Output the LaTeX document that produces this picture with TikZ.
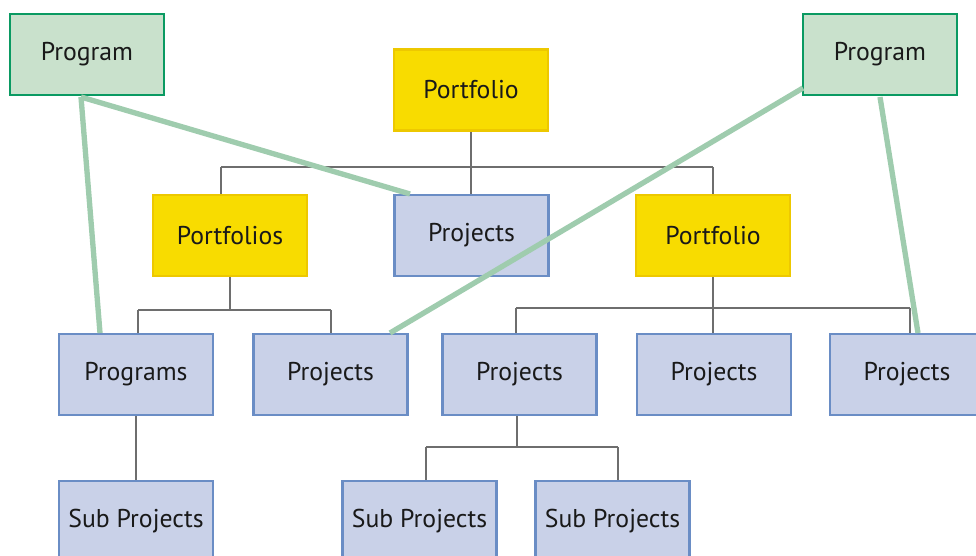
\documentclass[tikz,border=0pt]{standalone}
\usepackage{fontspec}
\setmainfont{PT Sans}
\definecolor{grnfill}{HTML}{C9E1CC}
\definecolor{grnline}{HTML}{0A9A62}
\definecolor{yelfill}{HTML}{F8DC00}
\definecolor{yelline}{HTML}{EDC800}
\definecolor{blufill}{HTML}{C9D1E8}
\definecolor{bluline}{HTML}{6A8DC5}
\definecolor{conngray}{HTML}{6E6E6E}
\definecolor{linkgreen}{HTML}{9FCCAE}
\begin{document}
\begin{tikzpicture}[x=0.75pt,y=-0.75pt,
  box/.style={minimum width=115.5pt,minimum height=61pt,inner sep=0pt,line width=1.9pt,font=\fontsize{19.3}{22}\selectfont,text=black!90},
  progbox/.style={box,draw=grnline,fill=grnfill},
  portbox/.style={box,draw=yelline,fill=yelfill},
  projbox/.style={box,draw=bluline,fill=blufill},
  conn/.style={draw=conngray,line width=2pt},
  link/.style={draw=linkgreen,line width=4pt}]
\useasboundingbox (0,0) rectangle (976,556);
\clip (0,0) rectangle (976,556);
% nodes
\node[progbox] (prgL) at (87,54.5) {Program};
\node[progbox] (prgR) at (880,54.5) {Program};
\node[portbox] (pf) at (471,90) {Portfolio};
\node[portbox] (pfs) at (230,235.5) {Portfolios};
\node[projbox] (prjM) at (471.5,235.5) {Projects};
\node[portbox] (pfR) at (713,235.5) {Portfolio};
\node[projbox] (prg) at (136,374.5) {Programs};
\node[projbox] (p1) at (330.5,374.5) {Projects};
\node[projbox] (p2) at (519.5,374.5) {Projects};
\node[projbox] (p3) at (714,374.5) {Projects};
\node[projbox] (p4) at (907,374.5) {Projects};
\node[projbox] (s1) at (136,521.5) {Sub Projects};
\node[projbox] (s2) at (419.5,521.5) {Sub Projects};
\node[projbox] (s3) at (612.5,521.5) {Sub Projects};
% coordinates for the buses
\coordinate (b1) at (471,167);
\coordinate (b1l) at (221,167);
\coordinate (b1r) at (713,167);
\coordinate (b2) at (230,310);
\coordinate (b2l) at (138,310);
\coordinate (b2r) at (331,310);
\coordinate (b3) at (713,308);
\coordinate (b3l) at (516,308);
\coordinate (b3r) at (910,308);
\coordinate (b4) at (517,447);
\coordinate (b4l) at (426,447);
\coordinate (b4r) at (618,447);
% gray connectors
\draw[conn] (pf.south) -- (b1);
\draw[conn] (b1l) -- (b1r);
\draw[conn] (b1l) -- (b1l |- pfs.north);
\draw[conn] (b1) -- (b1 |- prjM.north);
\draw[conn] (b1r) -- (b1r |- pfR.north);
\draw[conn] (pfs.south) -- (b2);
\draw[conn] (b2l) -- (b2r);
\draw[conn] (b2l) -- (b2l |- prg.north);
\draw[conn] (b2r) -- (b2r |- p1.north);
\draw[conn] (pfR.south) -- (b3);
\draw[conn] (b3l) -- (b3r);
\draw[conn] (b3l) -- (b3l |- p2.north);
\draw[conn] (b3) -- (b3 |- p3.north);
\draw[conn] (b3r) -- (b3r |- p4.north);
\draw[conn] (prg.south) -- (s1.north);
\draw[conn] (b4 |- p2.south) -- (b4);
\draw[conn] (b4l) -- (b4r);
\draw[conn] (b4l) -- (b4l |- s2.north);
\draw[conn] (b4r) -- (b4r |- s3.north);
% green links
\coordinate (gL) at (81,97);
\coordinate (gR1) at (803,88);
\coordinate (gR2) at (880,97);
\coordinate (eM) at (410,194);
\coordinate (eP) at (100,333);
\coordinate (e1) at (390,333);
\coordinate (e4) at (918,333);
\draw[link] (gL) -- (eP);
\draw[link] (gL) -- (eM);
\draw[link] (gR1) -- (e1);
\draw[link] (gR2) -- (e4);
\end{tikzpicture}
\end{document}
